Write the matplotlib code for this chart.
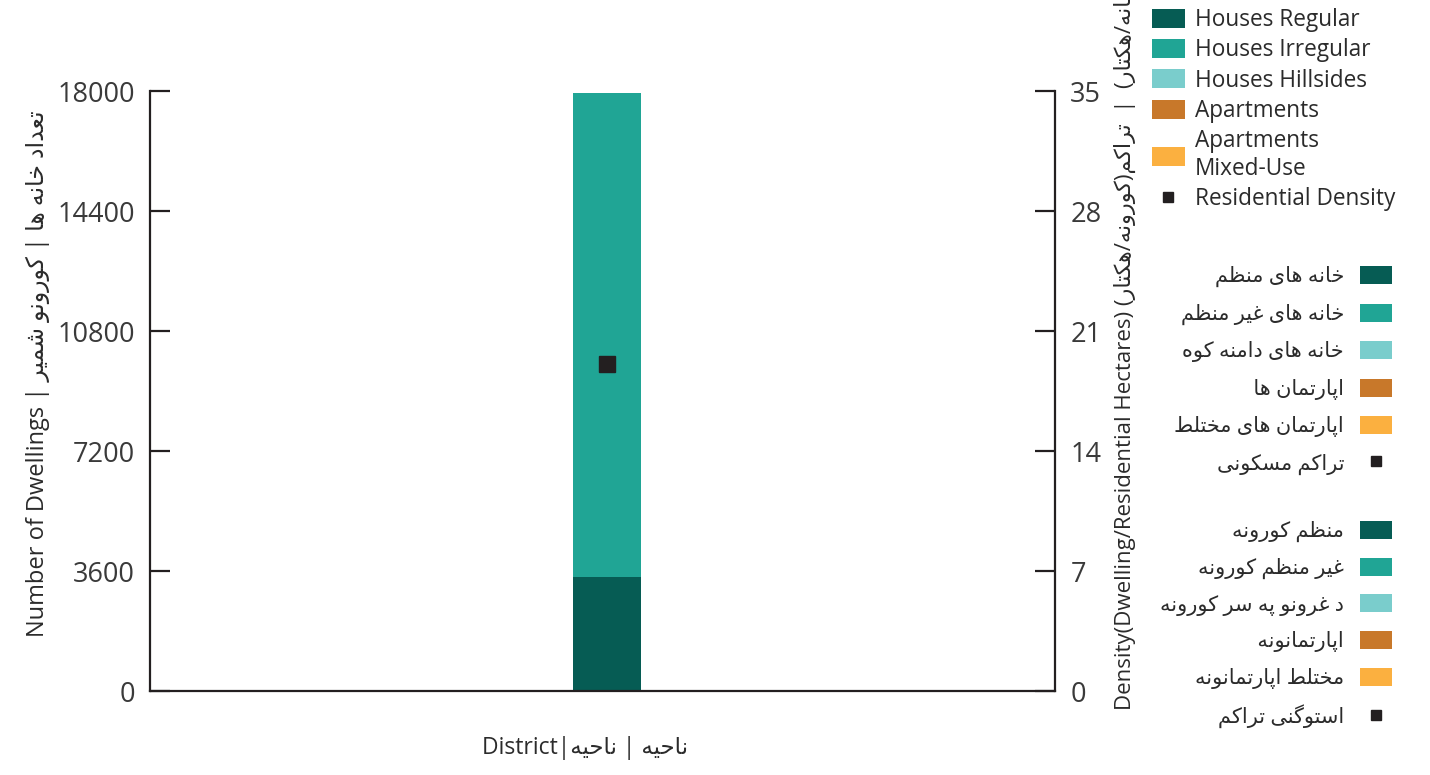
import matplotlib
matplotlib.use("Agg")
import matplotlib.pyplot as plt
from matplotlib.patches import Patch
from matplotlib.lines import Line2D

plt.rcParams['font.family'] = ['Open Sans', 'DejaVu Sans']

# ---------------- data ----------------
districts = ["District"]
houses_regular = [3420]
houses_irregular = [14520]
houses_hillsides = [0]
apartments = [0]
apartments_mixed = [0]
residential_density = [19.1]

left_ticks = [0, 3600, 7200, 10800, 14400, 18000]
right_ticks = [0, 7, 14, 21, 28, 35]

series_en = ["Houses Regular", "Houses Irregular", "Houses Hillsides", "Apartments",
             "Apartments\nMixed-Use", "Residential Density"]
series_fa = ["خانه های منظم", "خانه های غیر منظم", "خانه های دامنه کوه", "اپارتمان ها ",
             "اپارتمان های مختلط", "تراکم مسکونی"]
series_ps = ["منظم کورونه", "غیر منظم کورونه", "د غرونو په سر کورونه", "اپارتمانونه ",
             "مختلط اپارتمانونه", "استوگنی تراکم"]

colors = ["#065c54", "#20a595", "#7acdcc", "#c8782a", "#fbb040"]
dark = "#231f20"

# ------------- simple Arabic-script shaping (visual order) -------------
F = {
    '\u0627': ('\uFE8D', '\uFE8E', None, None),
    '\u0622': ('\uFE81', '\uFE82', None, None),
    '\u0628': ('\uFE8F', '\uFE90', '\uFE91', '\uFE92'),
    '\u067E': ('\uFB56', '\uFB57', '\uFB58', '\uFB59'),
    '\u062A': ('\uFE95', '\uFE96', '\uFE97', '\uFE98'),
    '\u062B': ('\uFE99', '\uFE9A', '\uFE9B', '\uFE9C'),
    '\u062C': ('\uFE9D', '\uFE9E', '\uFE9F', '\uFEA0'),
    '\u0686': ('\uFB7A', '\uFB7B', '\uFB7C', '\uFB7D'),
    '\u062D': ('\uFEA1', '\uFEA2', '\uFEA3', '\uFEA4'),
    '\u062E': ('\uFEA5', '\uFEA6', '\uFEA7', '\uFEA8'),
    '\u062F': ('\uFEA9', '\uFEAA', None, None),
    '\u0630': ('\uFEAB', '\uFEAC', None, None),
    '\u0631': ('\uFEAD', '\uFEAE', None, None),
    '\u0632': ('\uFEAF', '\uFEB0', None, None),
    '\u0698': ('\uFB8A', '\uFB8B', None, None),
    '\u0633': ('\uFEB1', '\uFEB2', '\uFEB3', '\uFEB4'),
    '\u0634': ('\uFEB5', '\uFEB6', '\uFEB7', '\uFEB8'),
    '\u0635': ('\uFEB9', '\uFEBA', '\uFEBB', '\uFEBC'),
    '\u0636': ('\uFEBD', '\uFEBE', '\uFEBF', '\uFEC0'),
    '\u0637': ('\uFEC1', '\uFEC2', '\uFEC3', '\uFEC4'),
    '\u0638': ('\uFEC5', '\uFEC6', '\uFEC7', '\uFEC8'),
    '\u0639': ('\uFEC9', '\uFECA', '\uFECB', '\uFECC'),
    '\u063A': ('\uFECD', '\uFECE', '\uFECF', '\uFED0'),
    '\u0641': ('\uFED1', '\uFED2', '\uFED3', '\uFED4'),
    '\u0642': ('\uFED5', '\uFED6', '\uFED7', '\uFED8'),
    '\u06A9': ('\uFB8E', '\uFB8F', '\uFB90', '\uFB91'),
    '\u0643': ('\uFED9', '\uFEDA', '\uFEDB', '\uFEDC'),
    '\u06AF': ('\uFB92', '\uFB93', '\uFB94', '\uFB95'),
    '\u0644': ('\uFEDD', '\uFEDE', '\uFEDF', '\uFEE0'),
    '\u0645': ('\uFEE1', '\uFEE2', '\uFEE3', '\uFEE4'),
    '\u0646': ('\uFEE5', '\uFEE6', '\uFEE7', '\uFEE8'),
    '\u0647': ('\uFEE9', '\uFEEA', '\uFEEB', '\uFEEC'),
    '\u0648': ('\uFEED', '\uFEEE', None, None),
    '\u06CC': ('\uFBFC', '\uFBFD', '\uFBFE', '\uFBFF'),
    '\u064A': ('\uFEF1', '\uFEF2', '\uFEF3', '\uFEF4'),
}


def shape(s):
    out = []
    for i, c in enumerate(s):
        if c not in F:
            out.append(c)
            continue
        iso, fin, ini, med = F[c]
        prev = s[i - 1] if i > 0 else None
        nxt = s[i + 1] if i + 1 < len(s) else None
        jp = prev in F and F[prev][2] is not None
        jn = nxt in F and ini is not None
        if jp and jn:
            out.append(med)
        elif jp:
            out.append(fin)
        elif jn:
            out.append(ini)
        else:
            out.append(iso)
    return ''.join(out)


def vis(s):
    sw = {'(': ')', ')': '('}
    return ''.join(sw.get(c, c) for c in shape(s)[::-1])


# ---------------- figure ----------------
W, H = 1430, 775
fig = plt.figure(figsize=(W / 100, H / 100), dpi=100)
ax = fig.add_axes([150 / W, 1 - 691 / H, 905 / W, 600 / H])
ax2 = ax.twinx()

x = list(range(len(districts)))
bw = 0.076
bottoms = [0] * len(districts)
for vals, col in zip([houses_regular, houses_irregular, houses_hillsides, apartments, apartments_mixed], colors):
    ax.bar(x, vals, bw, bottom=bottoms, color=col, zorder=2)
    bottoms = [b + v for b, v in zip(bottoms, vals)]

ax2.plot(x, residential_density, linestyle='none', marker='s', markersize=12,
         color=dark, zorder=5)

ax.set_xlim(-0.505, 0.495)
ax.set_ylim(0, 18000)
ax2.set_ylim(0, 35)
ax.set_yticks(left_ticks)
ax2.set_yticks(right_ticks)
ax.set_xticks([])

for a in (ax, ax2):
    a.spines['top'].set_visible(False)
    for s in a.spines.values():
        s.set_linewidth(1.6)
        s.set_color(dark)
ax.spines['right'].set_visible(False)
ax2.spines['left'].set_visible(False)
ax2.spines['bottom'].set_visible(False)

ax.tick_params(axis='y', direction='in', length=14.5, width=1.6, color=dark,
               labelsize=19.5, labelcolor='#3a3a3a', pad=11)
ax2.tick_params(axis='y', direction='in', length=14.5, width=1.6, color=dark,
                labelsize=19.5, labelcolor='#3a3a3a', pad=11)

txtc = '#2b2b2b'
fig.text(38 / W, 1 - 374 / H, "Number of Dwellings | " + vis("تعداد خانه ها | کورونو شمیر"),
         rotation=90, ha='center', va='center', fontsize=17, color=txtc)
fig.text(1125 / W, 1 - 710 / H,
         "Density(Dwelling/Residential Hectares) " + vis("تراکم(خانه/هکتار)  |  تراکم(کورونه/هکتار)"),
         rotation=90, ha='center', va='bottom', fontsize=16, color=txtc)
fig.text(585 / W, 1 - 748 / H, "District|" + vis("ناحیه | ناحیه"),
         ha='center', va='center', fontsize=16.5, color=txtc)

# ---------------- legends ----------------
def handles():
    hs = [Patch(facecolor=c, edgecolor='none') for c in colors]
    hs.append(Line2D([], [], linestyle='none', marker='s', markersize=7, color=dark))
    return hs

leg1 = fig.legend(handles(), series_en, loc='upper left', bbox_to_anchor=(1152 / W, 1 - 8 / H),
                  frameon=False, fontsize=16.3, handlelength=1.45, handleheight=0.9,
                  handletextpad=0.45, labelspacing=0.28, borderpad=0, borderaxespad=0,
                  labelcolor=txtc)
for t in leg1.get_texts():
    t.set_linespacing(1.2)

leg2 = fig.legend(handles(), [vis(s) for s in series_fa], loc='upper right',
                  bbox_to_anchor=(1392 / W, 1 - 266 / H), frameon=False, fontsize=15,
                  markerfirst=False, handlelength=1.55, handleheight=0.95,
                  handletextpad=0.75, labelspacing=0.78, borderpad=0, borderaxespad=0,
                  labelcolor=txtc)
leg3 = fig.legend(handles(), [vis(s) for s in series_ps], loc='upper right',
                  bbox_to_anchor=(1392 / W, 1 - 521 / H), frameon=False, fontsize=15,
                  markerfirst=False, handlelength=1.55, handleheight=0.95,
                  handletextpad=0.75, labelspacing=0.74, borderpad=0, borderaxespad=0,
                  labelcolor=txtc)

fig.savefig("out.png", dpi=100)
